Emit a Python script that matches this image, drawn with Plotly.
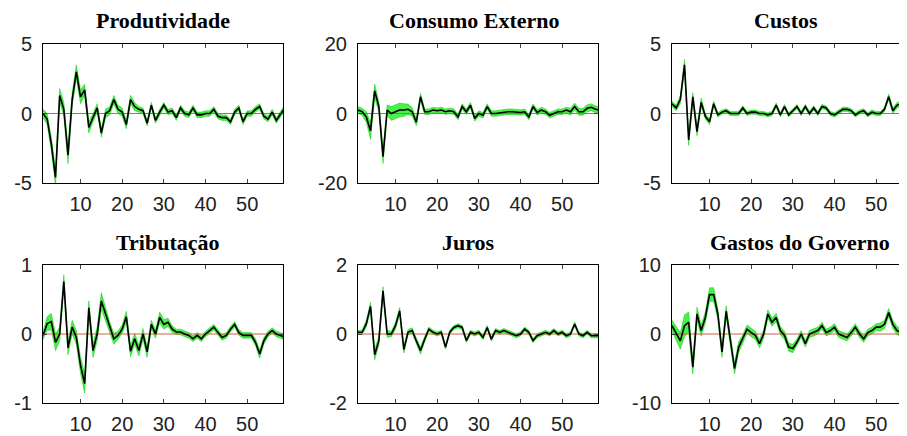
import plotly.graph_objects as go

steps = list(range(1, 60))

titles = ["Produtividade", "Consumo Externo", "Custos",
          "Tributação", "Juros", "Gastos do Governo"]

prod = [0.0, -0.4, -2.2, -4.6, 1.3, 0.3, -3.0, 1.0, 3.0, 1.2,
        1.7, -1.0, -0.3, 0.4, -1.4, 0.0, 0.2, 1.0, 0.3, 0.1,
        -0.8, 1.0, 0.5, 0.3, 0.2, -0.7, 0.6, -0.5, 0.1, 0.6,
        0.1, 0.2, -0.3, 0.4, 0.0, -0.1, 0.4, -0.1, -0.1, 0.0,
        0.0, 0.3, -0.2, -0.3, -0.3, -0.6, 0.1, 0.4, -0.6, 0.0,
        0.0, 0.3, 0.5, -0.2, -0.4, 0.1, -0.5, 0.0, 0.4]
cons = [1.0, 0.5, -1.0, -5.0, 6.5, 2.0, -12.4, 1.0, 0.0, 0.5,
        1.0, 1.0, 1.2, 0.5, -2.5, 4.8, 0.5, 0.5, 1.0, 0.8,
        1.0, 0.5, 0.8, 0.5, -1.0, 2.0, 0.5, 2.4, -1.4, 0.0,
        -0.5, 2.0, 0.0, 0.0, 0.2, 0.3, 0.5, 0.5, 0.3, 0.3,
        0.5, -1.0, 2.0, 0.3, 1.0, 0.5, -0.5, 0.0, 0.5, 0.5,
        1.0, 0.5, 2.0, 0.5, 0.5, 1.5, 1.8, 1.2, 1.0]
cust = [0.7, 0.4, 1.0, 3.5, -1.9, 1.2, -1.3, 0.8, -0.2, -0.6,
        0.7, -0.1, 0.1, 0.2, 0.0, 0.0, 0.0, 0.4, 0.0, 0.1,
        0.1, 0.0, 0.0, -0.1, 0.0, 0.6, -0.1, 0.5, -0.1, 0.2,
        0.5, 0.0, 0.5, 0.0, 0.4, 0.0, 0.5, 0.4, 0.0, -0.1,
        0.1, 0.3, 0.3, 0.2, -0.1, 0.1, 0.2, -0.1, 0.1, 0.0,
        0.0, 0.3, 1.2, 0.2, 0.6, 0.7, 0.3, 0.1, 0.2]
trib = [-0.02, 0.15, 0.18, -0.12, 0.0, 0.76, -0.2, 0.1, -0.05, -0.45,
        -0.72, 0.38, -0.24, 0.0, 0.48, 0.29, 0.1, -0.07, -0.02, 0.07,
        0.25, -0.25, -0.07, -0.24, 0.0, -0.26, 0.14, 0.0, 0.24, 0.14,
        0.17, 0.07, 0.03, 0.03, 0.0, -0.02, -0.07, -0.02, -0.07, 0.0,
        0.05, 0.1, 0.02, -0.05, -0.02, 0.07, 0.14, 0.02, -0.02, -0.02,
        -0.02, -0.12, -0.29, -0.1, 0.0, 0.05, 0.0, -0.02, -0.05]
juros = [0.05, 0.05, 0.3, 0.8, -0.6, -0.2, 1.25, 0.0, 0.0, 0.24,
         0.67, -0.45, 0.05, 0.1, -0.2, -0.48, -0.15, 0.14, 0.05, 0.0,
         0.05, -0.38, 0.05, 0.19, 0.24, 0.19, -0.19, 0.05, 0.0, 0.05,
         -0.1, 0.19, -0.15, 0.1, 0.05, 0.1, 0.05, 0.0, -0.05, 0.0,
         0.14, 0.05, -0.19, -0.05, 0.0, 0.05, 0.0, 0.1, 0.0, 0.05,
         -0.05, 0.0, 0.29, 0.0, -0.05, 0.05, -0.05, -0.05, -0.05]
gastos = [1.2, 0.0, -1.0, 1.2, 1.7, -4.8, 2.9, 0.5, 2.4, 5.7,
          5.7, 2.9, -2.6, 3.3, -1.0, -5.0, -1.9, -0.7, 0.7, 0.2,
          -0.2, -1.4, 0.0, 2.9, 1.7, 2.4, 0.5, -0.2, -1.9, -2.1,
          -1.2, 0.0, -1.4, 0.0, 0.2, 0.5, 1.2, 0.2, 0.5, 1.0,
          0.0, -0.2, -0.5, 0.2, 1.0, 0.0, -0.7, 0.2, 0.5, 1.0,
          1.0, 1.4, 3.1, 1.4, 0.5, 0.2, 0.7, 1.0, 1.0]

# half width of the green band
prod_band = [0.3, 0.4, 0.5, 0.6, 0.5, 0.5, 0.6, 0.5, 0.5, 0.5,
             0.4, 0.4, 0.3, 0.3, 0.3, 0.3, 0.3, 0.3, 0.3, 0.3,
             0.3, 0.3, 0.3, 0.2, 0.2, 0.2, 0.2, 0.2, 0.2, 0.2,
             0.2, 0.2, 0.2, 0.2, 0.2, 0.2, 0.2, 0.2, 0.2, 0.2,
             0.2, 0.2, 0.2, 0.2, 0.2, 0.2, 0.2, 0.2, 0.2, 0.2,
             0.2, 0.2, 0.2, 0.2, 0.2, 0.2, 0.2, 0.2, 0.2]
cons_band = [1.0, 1.0, 1.5, 2.5, 2.0, 1.5, 2.0, 1.5, 2.0, 2.0,
             2.0, 1.8, 1.5, 1.2, 1.0, 1.0, 0.8, 0.8, 0.8, 0.8,
             0.8, 0.8, 0.8, 0.8, 0.8, 0.8, 0.8, 0.8, 0.8, 0.8,
             0.8, 0.8, 0.8, 0.8, 0.8, 0.8, 0.8, 0.8, 0.8, 0.8,
             0.8, 0.8, 0.8, 0.8, 0.8, 0.8, 0.8, 0.8, 0.8, 0.8,
             0.8, 1.0, 1.0, 1.0, 1.0, 1.0, 1.0, 1.0, 1.0]
cust_band = [0.2, 0.2, 0.3, 0.4, 0.4, 0.3, 0.3, 0.3, 0.2, 0.2,
             0.2, 0.15, 0.15, 0.15, 0.15, 0.15, 0.15, 0.15, 0.15, 0.15,
             0.15, 0.15, 0.15, 0.15, 0.15, 0.15, 0.15, 0.15, 0.15, 0.15,
             0.15, 0.15, 0.15, 0.15, 0.15, 0.15, 0.15, 0.15, 0.15, 0.15,
             0.15, 0.15, 0.15, 0.15, 0.15, 0.15, 0.15, 0.15, 0.15, 0.15,
             0.15, 0.15, 0.2, 0.2, 0.2, 0.2, 0.2, 0.2, 0.2]
trib_band = [0.06, 0.1, 0.12, 0.12, 0.1, 0.1, 0.1, 0.1, 0.1, 0.12,
             0.14, 0.1, 0.1, 0.1, 0.12, 0.1, 0.08, 0.08, 0.06, 0.06,
             0.08, 0.08, 0.08, 0.08, 0.08, 0.08, 0.06, 0.06, 0.08, 0.07,
             0.06, 0.05, 0.04, 0.04, 0.04, 0.04, 0.04, 0.04, 0.04, 0.04,
             0.04, 0.04, 0.04, 0.04, 0.04, 0.04, 0.04, 0.04, 0.04, 0.04,
             0.04, 0.05, 0.06, 0.05, 0.04, 0.04, 0.04, 0.04, 0.04]
juros_band = [0.05, 0.06, 0.1, 0.12, 0.15, 0.12, 0.12, 0.1, 0.08, 0.1,
              0.1, 0.1, 0.08, 0.08, 0.08, 0.1, 0.08, 0.06, 0.06, 0.06,
              0.06, 0.06, 0.06, 0.06, 0.06, 0.06, 0.06, 0.06, 0.06, 0.06,
              0.06, 0.06, 0.06, 0.06, 0.06, 0.06, 0.06, 0.06, 0.06, 0.06,
              0.06, 0.06, 0.06, 0.06, 0.06, 0.06, 0.06, 0.06, 0.06, 0.06,
              0.06, 0.06, 0.06, 0.06, 0.06, 0.06, 0.06, 0.06, 0.06]
gastos_band = [0.8, 1.0, 1.2, 1.6, 1.5, 1.0, 1.0, 0.8, 0.8, 1.0,
               1.0, 0.8, 0.8, 0.8, 0.8, 0.8, 0.8, 0.6, 0.6, 0.6,
               0.6, 0.6, 0.6, 0.6, 0.6, 0.6, 0.6, 0.6, 0.6, 0.6,
               0.5, 0.5, 0.5, 0.5, 0.5, 0.5, 0.5, 0.5, 0.5, 0.5,
               0.5, 0.5, 0.5, 0.5, 0.5, 0.5, 0.5, 0.5, 0.5, 0.5,
               0.6, 0.6, 0.6, 0.6, 0.6, 0.6, 0.6, 0.6, 0.6]

series = [prod, cons, cust, trib, juros, gastos]
bands = [prod_band, cons_band, cust_band, trib_band, juros_band, gastos_band]
ylims = [5, 20, 5, 1, 2, 10]

# the page body has an 8px margin, so the figure is drawn 8px in from the corner
OFF = 8
W, H = 907 - OFF, 436 - OFF
col_px = [(43, 283), (358, 598), (672, 907)]
row_px = [(44, 183), (265, 403)]
xranges = [[1, 58.6], [1, 58.6], [1, 57.4]]
title_pos = [(163, 20), (474, 20), (786, 20), (167, 242), (468, 242), (800, 242)]

fig = go.Figure()
layout = {}
for k in range(6):
    r, c = divmod(k, 3)
    sfx = '' if k == 0 else str(k + 1)
    xa, ya = 'x' + sfx, 'y' + sfx
    m, b = series[k], bands[k]
    upper = [v + w for v, w in zip(m, b)]
    lower = [v - w for v, w in zip(m, b)]
    fig.add_trace(go.Scatter(x=steps, y=upper, xaxis=xa, yaxis=ya, mode='lines',
                             line=dict(width=0.5, color='rgba(0,200,0,0.9)'),
                             showlegend=False, hoverinfo='skip'))
    fig.add_trace(go.Scatter(x=steps, y=lower, xaxis=xa, yaxis=ya, mode='lines',
                             line=dict(width=0.5, color='rgba(0,200,0,0.9)'),
                             fill='tonexty', fillcolor='rgba(30,235,30,0.8)',
                             showlegend=False, hoverinfo='skip'))
    fig.add_trace(go.Scatter(x=steps, y=[0] * len(steps), xaxis=xa, yaxis=ya,
                             mode='lines', line=dict(width=1, color='#d0604a'),
                             showlegend=False))
    fig.add_trace(go.Scatter(x=steps, y=m, xaxis=xa, yaxis=ya, mode='lines',
                             line=dict(width=1.6, color='black'),
                             showlegend=False))

    x0, x1 = col_px[c][0] - OFF, col_px[c][1] - OFF
    y0, y1 = row_px[r][0] - OFF, row_px[r][1] - OFF
    lim = ylims[k]
    layout['xaxis' + sfx] = dict(
        domain=[x0 / W, min(x1 / W, 1)], anchor=ya, range=xranges[c], automargin=False,
        tickvals=[10, 20, 30, 40, 50], ticks='inside', ticklen=4,
        showline=True, linecolor='black', linewidth=1, mirror='ticks',
        showgrid=False, zeroline=False, ticklabelstandoff=3,
        tickfont=dict(family='Liberation Sans', size=20, color='#222'))
    layout['yaxis' + sfx] = dict(
        domain=[1 - y1 / H, 1 - y0 / H], anchor=xa, range=[-lim, lim], automargin=False,
        tickvals=[-lim, 0, lim], ticktext=[str(-lim), '0', str(lim)],
        ticks='inside', ticklen=4,
        showline=True, linecolor='black', linewidth=1,
        mirror='ticks' if c < 2 else False,
        showgrid=False, zeroline=False, ticklabelstandoff=6,
        tickfont=dict(family='Liberation Sans', size=20, color='#222'))

annotations = []
for t, (px, py) in zip(titles, title_pos):
    annotations.append(dict(text='<b>' + t + '</b>', x=(px - OFF) / W, y=1 - (py - OFF) / H,
                            xref='paper', yref='paper', showarrow=False,
                            xanchor='center', yanchor='middle',
                            font=dict(family='Liberation Serif', size=22, color='black')))

fig.update_layout(
    width=W, height=H,
    margin=dict(l=0, r=0, t=0, b=0),
    paper_bgcolor='white', plot_bgcolor='white',
    annotations=annotations,
    **layout,
)

fig.write_html("out.html")
